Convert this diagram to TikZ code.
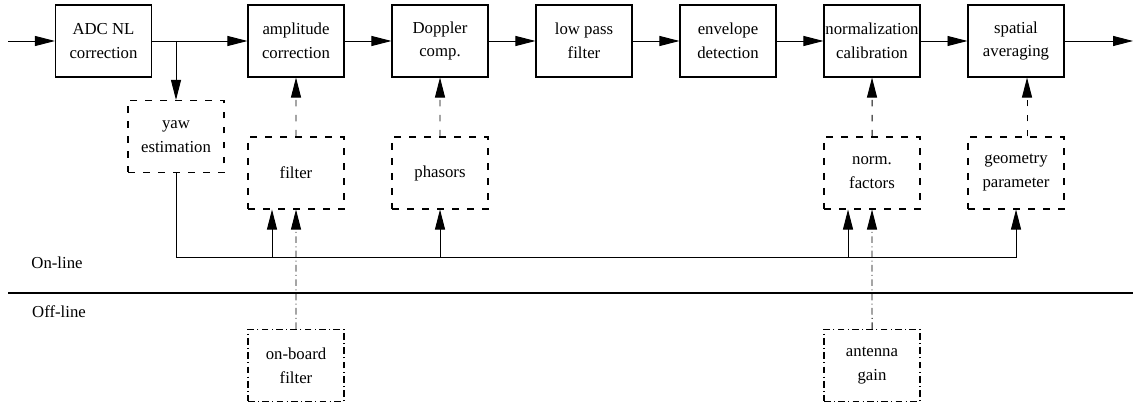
\documentclass[tikz,border=0pt]{standalone}
\usepackage{fontspec}
\setmainfont{Liberation Serif}
\usetikzlibrary{arrows.meta}

\begin{document}
\begin{tikzpicture}[scale=0.3]
\tikzstyle{every node}+=[inner sep=0pt, font=\rmfamily\fontsize{14.3}{20.4}\selectfont, align=center]
\tikzstyle{block}=[draw, line width=0.9pt, minimum width=2.88cm, minimum height=2.16cm]
\tikzstyle{param}=[block, dash pattern=on 0.2cm off 0.25cm]
\tikzstyle{offblock}=[block, dash pattern=on 0.2cm off 0.1cm on 0.03cm off 0.1cm]
\tikzstyle{arr}=[line width=0.8pt, -{Triangle[length=0.6cm, width=0.3cm]}]
\tikzstyle{darr}=[arr, dash pattern=on 0.2cm off 0.25cm]
\tikzstyle{ddarr}=[arr, dash pattern=on 0.2cm off 0.1cm on 0.03cm off 0.1cm]
\useasboundingbox (0,0) rectangle (113.3,-40.8);
% processing chain
\node [block] (adc) at (10.35,-4.1) {ADC NL\\correction};
\node [block] (amp) at (29.6,-4.1) {amplitude\\correction};
\node [block] (dop) at (44.0,-4.1) {Doppler\\comp.};
\node [block] (lpf) at (58.4,-4.1) {low pass\\filter};
\node [block] (env) at (72.8,-4.1) {envelope\\detection};
\node [block] (norm) at (87.2,-4.1) {normalization\\calibration};
\node [block] (spat) at (101.6,-4.1) {spatial\\averaging};
\coordinate (in) at (0.8,-4.1);
\coordinate (out) at (113.3,-4.1);
% on-line parameters
\node [param] (yaw) at (17.6,-13.65) {yaw\\estimation};
\node [param] (filt) at (29.6,-17.3) {filter};
\node [param] (phas) at (44.0,-17.3) {phasors};
\node [param] (nfac) at (87.2,-17.3) {norm.\\factors};
\node [param] (geom) at (101.6,-17.3) {geometry\\parameter};
% off-line parameters
\node [offblock] (obf) at (29.6,-36.55) {on-board\\filter};
\node [offblock] (ant) at (87.2,-36.55) {antenna\\gain};
\node (online) at (5.7,-26.3) {On-line};
\node (offline) at (5.9,-31.2) {Off-line};
\coordinate (bus) at (17.6,-25.7);
\draw [arr] (in) -- (adc);
\draw [arr] (adc) -- (amp);
\draw [arr] (amp) -- (dop);
\draw [arr] (dop) -- (lpf);
\draw [arr] (lpf) -- (env);
\draw [arr] (env) -- (norm);
\draw [arr] (norm) -- (spat);
\draw [arr] (spat) -- (out);
\draw [arr] (adc.east -| yaw.north) -- (yaw.north);
\draw [darr] (filt) -- (amp);
\draw [darr] (phas) -- (dop);
\draw [darr] (nfac) -- (norm);
\draw [darr] ([xshift=1.1cm]geom.north) -- ([xshift=1.1cm]spat.south);
% yaw bus
\draw [arr] (yaw.south) -- (bus) -| (geom.south);
\draw [arr] ([xshift=-2.4cm]filt.south |- bus) -- ([xshift=-2.4cm]filt.south);
\draw [arr] (phas.south |- bus) -- (phas.south);
\draw [arr] ([xshift=-2.4cm]nfac.south |- bus) -- ([xshift=-2.4cm]nfac.south);
\draw [ddarr] (obf) -- (filt);
\draw [ddarr] (ant) -- (nfac);
\draw [line width=1.7pt] (0.8,-29.3) -- (113.3,-29.3);
\end{tikzpicture}
\end{document}
